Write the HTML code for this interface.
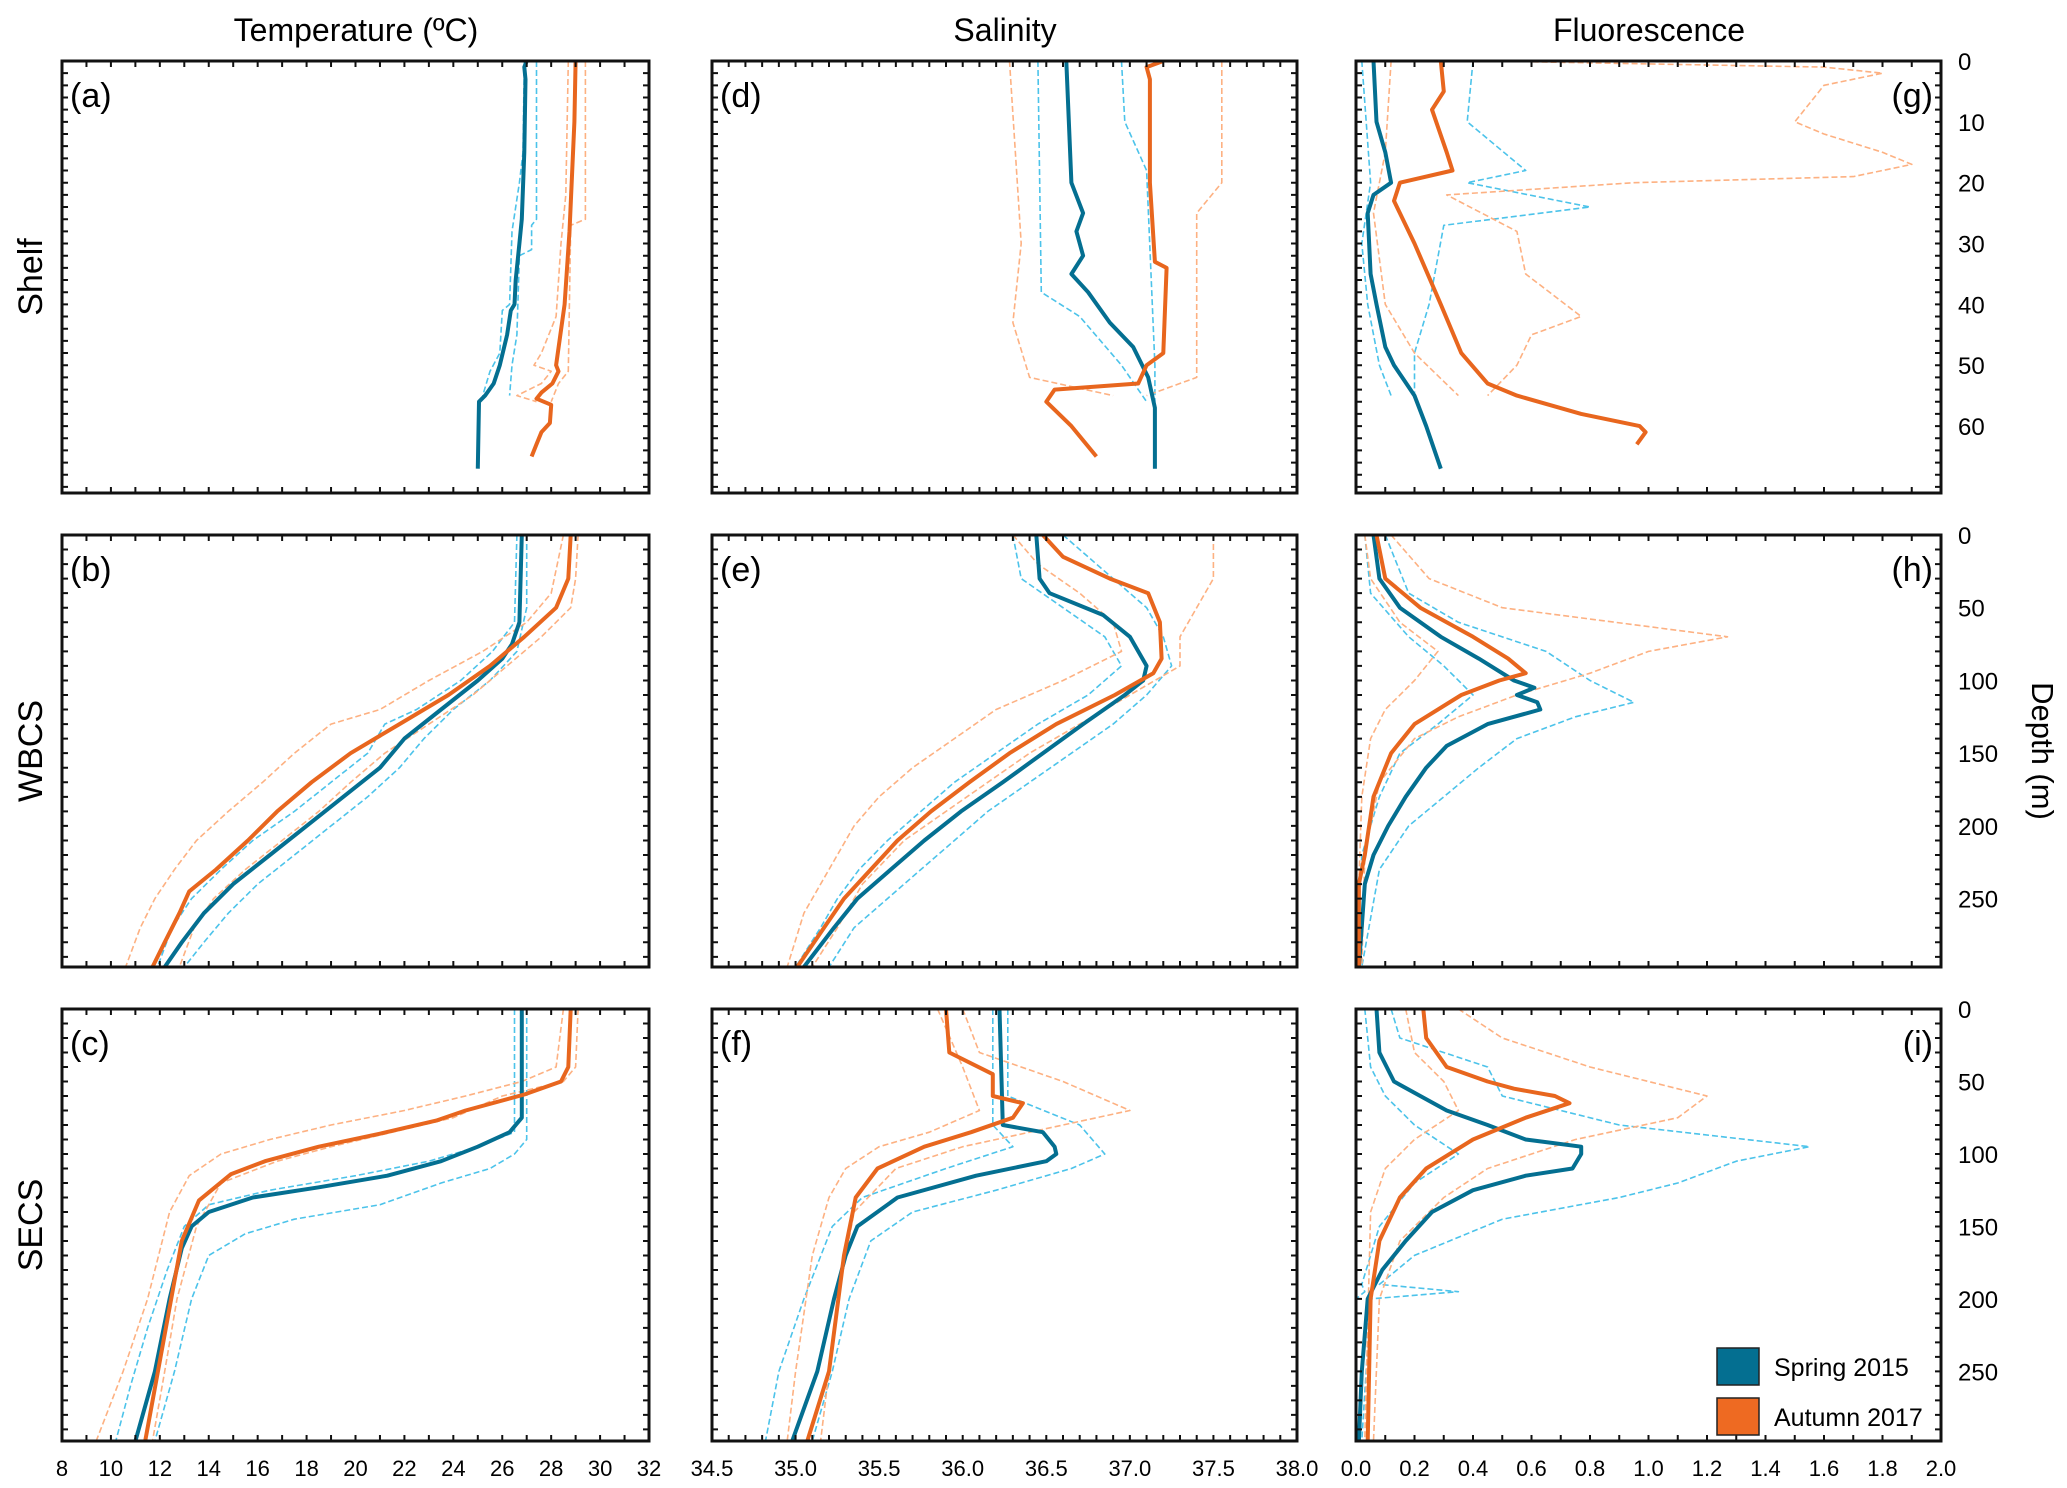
<!DOCTYPE html>
<html><head><meta charset="utf-8"><style>
html,body{margin:0;padding:0;background:#fff;}
svg{display:block;font-family:"Liberation Sans",Arial,sans-serif;}
</style></head><body>
<svg id="fig" width="2067" height="1488" viewBox="0 0 2067 1488" xmlns="http://www.w3.org/2000/svg">
<rect x="0" y="0" width="2067" height="1488" fill="#fff"/>
<text x="356" y="41" font-size="32" text-anchor="middle">Temperature (ºC)</text>
<text x="1005" y="41" font-size="32" text-anchor="middle">Salinity</text>
<text x="1649" y="41" font-size="32" text-anchor="middle">Fluorescence</text>
<text transform="translate(42,277) rotate(-90)" font-size="34" text-anchor="middle">Shelf</text>
<text transform="translate(42,751) rotate(-90)" font-size="34" text-anchor="middle">WBCS</text>
<text transform="translate(42,1225) rotate(-90)" font-size="34" text-anchor="middle">SECS</text>
<text transform="translate(2032,751) rotate(90)" font-size="31" text-anchor="middle">Depth (m)</text>
<g id="panels"></g>
<g>
<rect x="1717" y="1348" width="42" height="37" fill="#046f91" stroke="#222" stroke-width="1.5"/>
<text x="1774" y="1376" font-size="25">Spring 2015</text>
<rect x="1717" y="1398" width="42" height="37" fill="#ee6a22" stroke="#222" stroke-width="1.5"/>
<text x="1774" y="1426" font-size="25">Autumn 2017</text>
</g>
</svg>
<script>
// ---- data: [depth, value] pairs ----
const a_sp_mean=[[0,27.0],[1,26.9],[3,26.95],[15,26.9],[26,26.8],[30,26.7],[36,26.55],[40,26.5],[41,26.35],[45,26.2],[50,25.9],[53,25.65],[55,25.3],[56,25.05],[67,25.0]];
const a_sp_lo=[[0,26.9],[15,26.85],[20,26.7],[28,26.4],[40,26.3],[41,26.0],[48,25.9],[51,25.5],[55,25.2]];
const a_sp_hi=[[0,27.4],[26,27.4],[27,27.2],[31,27.2],[32,26.7],[45,26.6],[50,26.4],[55,26.3]];
const a_au_mean=[[0,29.0],[10,28.95],[28,28.75],[40,28.55],[50,28.2],[51,28.3],[53,28.05],[54.5,27.6],[55.5,27.4],[56.5,28.0],[59.5,27.95],[61,27.6],[63,27.4],[65,27.2]];
const a_au_lo=[[0,28.7],[22,28.6],[30,28.4],[42,28.2],[48,27.6],[50,27.3],[51,28.0],[53,27.6],[55,26.6],[56,27.4]];
const a_au_hi=[[0,29.4],[26,29.4],[27,28.8],[51,28.7],[53,28.3],[56,28.0]];

const b_sp_mean=[[0,26.8],[60,26.7],[75,26.4],[85,26.0],[100,25.0],[120,23.5],[140,22.0],[160,21.0],[180,19.5],[200,18.0],[220,16.5],[240,15.0],[260,13.8],[280,12.9],[297,12.2]];
const b_sp_lo=[[0,26.6],[60,26.5],[80,25.6],[100,24.3],[120,22.5],[130,21.2],[150,20.5],[170,19.0],[190,17.5],[210,15.8],[230,14.5],[250,13.3],[270,12.5],[297,11.9]];
const b_sp_hi=[[0,27.0],[50,27.0],[80,26.6],[100,25.5],[120,24.0],[140,22.8],[160,21.8],[180,20.5],[200,19.0],[220,17.5],[240,16.0],[260,14.8],[280,13.8],[297,13.0]];
const b_au_mean=[[0,28.8],[30,28.7],[50,28.2],[70,26.9],[90,25.5],[110,23.8],[130,21.8],[150,19.8],[170,18.2],[190,16.8],[210,15.6],[230,14.3],[245,13.2],[260,12.8],[280,12.2],[297,11.7]];
const b_au_lo=[[0,28.5],[40,28.0],[60,27.0],[80,25.2],[100,23.0],[120,21.0],[130,19.0],[150,17.5],[170,16.2],[190,14.8],[210,13.5],[230,12.6],[250,11.8],[270,11.2],[297,10.6]];
const b_au_hi=[[0,29.1],[30,29.0],[50,28.8],[70,27.6],[90,26.2],[110,24.8],[130,23.0],[150,21.2],[170,19.8],[190,18.5],[210,17.0],[230,15.5],[250,14.2],[270,13.4],[297,12.8]];

const c_sp_mean=[[0,26.8],[75,26.8],[85,26.3],[95,25.0],[105,23.5],[115,21.3],[123,18.5],[130,15.8],[140,14.0],[150,13.3],[165,12.9],[200,12.4],[250,11.8],[298,11.0]];
const c_sp_lo=[[0,26.5],[85,26.5],[95,25.0],[105,23.0],[115,20.0],[125,16.5],[135,14.0],[150,13.0],[180,12.3],[220,11.5],[260,10.8],[298,10.2]];
const c_sp_hi=[[0,27.0],[90,27.0],[100,26.5],[110,25.5],[120,23.5],[135,21.0],[145,17.5],[155,15.5],[170,14.0],[200,13.3],[250,12.6],[298,11.8]];
const c_au_mean=[[0,28.8],[40,28.7],[50,28.4],[59,26.9],[70,24.5],[77,23.3],[86,21.0],[95,18.5],[105,16.3],[114,14.9],[132,13.6],[160,12.9],[215,12.3],[298,11.4]];
const c_au_lo=[[0,28.5],[40,28.2],[50,26.8],[60,24.5],[70,22.0],[80,19.0],[90,16.5],[100,14.5],[115,13.2],[140,12.4],[200,11.5],[250,10.5],[298,9.4]];
const c_au_hi=[[0,29.1],[40,29.0],[50,28.5],[60,26.0],[75,24.0],[85,21.5],[95,19.0],[105,16.8],[120,14.5],[150,13.5],[200,12.7],[250,12.2],[298,11.7]];

const d_sp_mean=[[0,36.62],[20,36.65],[25,36.72],[28,36.68],[32,36.72],[35,36.65],[38,36.75],[43,36.88],[47,37.02],[52,37.11],[57,37.15],[67,37.15]];
const d_sp_lo=[[0,36.45],[38,36.47],[42,36.7],[50,36.95],[56,37.1]];
const d_sp_hi=[[0,36.95],[10,36.97],[18,37.1],[50,37.15],[56,37.15]];
const d_au_mean=[[0,37.2],[1,37.1],[3,37.12],[20,37.12],[33,37.15],[34,37.22],[48,37.2],[50,37.1],[53,37.05],[54,36.55],[56,36.5],[60,36.65],[65,36.8]];
const d_au_lo=[[0,36.28],[30,36.35],[43,36.3],[52,36.4],[55,36.9]];
const d_au_hi=[[0,37.55],[20,37.55],[25,37.4],[52,37.4],[55,37.1]];

const e_sp_mean=[[0,36.44],[30,36.46],[40,36.52],[55,36.84],[70,37.0],[90,37.1],[100,37.08],[110,36.97],[130,36.72],[150,36.48],[170,36.24],[190,35.99],[210,35.77],[230,35.57],[250,35.37],[270,35.23],[297,35.05]];
const e_sp_lo=[[0,36.3],[30,36.35],[50,36.6],[70,36.85],[90,36.95],[110,36.75],[130,36.45],[150,36.2],[170,35.95],[190,35.75],[210,35.55],[230,35.38],[250,35.25],[270,35.15],[297,35.0]];
const e_sp_hi=[[0,36.6],[30,36.9],[50,37.1],[70,37.2],[90,37.25],[110,37.1],[130,36.9],[150,36.65],[170,36.4],[190,36.15],[210,35.95],[230,35.75],[250,35.55],[270,35.35],[297,35.2]];
const e_au_mean=[[0,36.48],[15,36.6],[30,36.88],[40,37.11],[60,37.18],[85,37.19],[95,37.14],[110,36.91],[130,36.56],[150,36.28],[170,36.04],[190,35.81],[210,35.61],[230,35.45],[250,35.29],[270,35.17],[297,35.01]];
const e_au_lo=[[0,36.3],[20,36.45],[40,36.7],[60,36.9],[80,36.95],[100,36.6],[120,36.2],[140,35.95],[160,35.7],[180,35.5],[200,35.35],[230,35.2],[260,35.05],[297,34.95]];
const e_au_hi=[[0,37.5],[30,37.5],[50,37.4],[70,37.3],[90,37.3],[110,37.0],[130,36.7],[150,36.4],[170,36.15],[190,35.9],[210,35.65],[240,35.4],[270,35.25],[297,35.1]];

const f_sp_mean=[[0,36.22],[80,36.24],[85,36.48],[95,36.55],[100,36.56],[105,36.5],[115,36.08],[130,35.61],[150,35.37],[170,35.3],[200,35.23],[250,35.13],[298,34.98]];
const f_sp_lo=[[0,36.18],[80,36.18],[95,36.3],[110,35.9],[130,35.4],[150,35.22],[200,35.05],[250,34.9],[298,34.82]];
const f_sp_hi=[[0,36.27],[60,36.27],[80,36.7],[100,36.85],[110,36.65],[125,36.2],[140,35.7],[160,35.45],[200,35.32],[250,35.22],[298,35.1]];
const f_au_mean=[[0,35.9],[30,35.92],[45,36.18],[60,36.18],[65,36.36],[75,36.3],[85,36.05],[95,35.77],[110,35.49],[130,35.36],[170,35.29],[250,35.2],[298,35.07]];
const f_au_lo=[[0,35.85],[40,36.0],[70,36.1],[85,35.8],[95,35.5],[110,35.3],[130,35.2],[170,35.1],[250,35.0],[298,34.95]];
const f_au_hi=[[0,36.0],[30,36.1],[50,36.6],[70,37.0],[80,36.6],[95,36.0],[110,35.6],[140,35.35],[200,35.25],[250,35.2],[298,35.15]];

const g_sp_mean=[[0,0.06],[10,0.07],[15,0.10],[20,0.12],[22,0.06],[25,0.04],[35,0.05],[40,0.07],[47,0.1],[50,0.13],[55,0.2],[60,0.24],[67,0.29]];
const g_sp_lo=[[0,0.02],[20,0.05],[30,0.02],[40,0.04],[50,0.08],[55,0.12]];
const g_sp_hi=[[0,0.4],[10,0.38],[18,0.58],[20,0.38],[24,0.8],[27,0.3],[40,0.25],[48,0.2],[55,0.2]];
const g_au_mean=[[0,0.29],[5,0.3],[8,0.26],[15,0.31],[18,0.33],[20,0.15],[23,0.13],[30,0.2],[40,0.29],[48,0.36],[53,0.45],[55,0.55],[58,0.77],[60,0.97],[61,0.99],[63,0.96]];
const g_au_lo=[[0,0.12],[15,0.1],[25,0.06],[40,0.1],[48,0.2],[55,0.35]];
const g_au_hi=[[0,0.45],[1,1.6],[2,1.8],[4,1.6],[7,1.55],[10,1.5],[12,1.6],[15,1.8],[17,1.9],[19,1.7],[20,0.95],[22,0.31],[28,0.55],[35,0.58],[42,0.77],[45,0.6],[50,0.55],[55,0.45]];

const h_sp_mean=[[0,0.06],[30,0.08],[50,0.15],[70,0.29],[85,0.42],[100,0.54],[105,0.61],[110,0.55],[115,0.62],[120,0.63],[130,0.45],[145,0.31],[160,0.24],[180,0.17],[200,0.11],[220,0.06],[240,0.03],[297,0.01]];
const h_sp_lo=[[0,0.03],[40,0.05],[70,0.18],[90,0.3],[110,0.4],[130,0.28],[150,0.15],[180,0.08],[220,0.02],[297,0.0]];
const h_sp_hi=[[0,0.1],[40,0.18],[60,0.35],[80,0.65],[100,0.8],[115,0.95],[125,0.75],[140,0.55],[160,0.42],[180,0.3],[200,0.18],[230,0.08],[297,0.02]];
const h_au_mean=[[0,0.07],[30,0.1],[50,0.22],[70,0.4],[85,0.52],[95,0.58],[100,0.49],[110,0.36],[130,0.2],[150,0.12],[180,0.06],[220,0.03],[240,0.01],[297,0.01]];
const h_au_lo=[[0,0.03],[30,0.05],[60,0.15],[80,0.28],[100,0.2],[120,0.1],[140,0.05],[180,0.02],[297,0.0]];
const h_au_hi=[[0,0.12],[30,0.25],[50,0.5],[70,1.27],[80,1.0],[95,0.8],[110,0.55],[125,0.35],[140,0.2],[170,0.08],[220,0.03],[297,0.02]];

const i_sp_mean=[[0,0.07],[30,0.08],[50,0.13],[60,0.22],[70,0.31],[80,0.45],[90,0.58],[95,0.77],[100,0.77],[110,0.74],[115,0.58],[125,0.4],[140,0.26],[160,0.17],[180,0.09],[200,0.04],[250,0.02],[298,0.01]];
const i_sp_lo=[[0,0.03],[40,0.05],[60,0.1],[80,0.2],[100,0.35],[120,0.2],[150,0.08],[190,0.02],[195,0.03],[200,0.0],[298,0.0]];
const i_sp_hi=[[0,0.12],[20,0.15],[40,0.45],[60,0.5],[80,0.9],[95,1.55],[105,1.3],[120,1.1],[130,0.9],[145,0.5],[170,0.2],[190,0.08],[195,0.35],[200,0.05],[298,0.02]];
const i_au_mean=[[0,0.23],[20,0.24],[40,0.31],[50,0.45],[55,0.54],[60,0.68],[65,0.73],[75,0.58],[90,0.4],[110,0.24],[130,0.15],[160,0.08],[200,0.05],[298,0.04]];
const i_au_lo=[[0,0.17],[30,0.2],[50,0.3],[70,0.35],[90,0.2],[110,0.1],[140,0.05],[298,0.03]];
const i_au_hi=[[0,0.35],[20,0.5],[40,0.8],[60,1.2],[75,1.1],[90,0.75],[110,0.45],[130,0.3],[160,0.15],[200,0.08],[298,0.06]];

// axis tick labels
const tempTicks=[8,10,12,14,16,18,20,22,24,26,28,30,32];
const salTicks=["34.5","35.0","35.5","36.0","36.5","37.0","37.5","38.0"];
const fluTicks=["0.0","0.2","0.4","0.6","0.8","1.0","1.2","1.4","1.6","1.8","2.0"];
const shelfDepthTicks=[0,10,20,30,40,50,60];
const deepDepthTicks=[0,50,100,150,200,250];

const NS="http://www.w3.org/2000/svg";
const root=document.getElementById('panels');
const COLX=[62,712,1356], COLW=[587,585,585];
const ROWY=[61,535,1009], ROWH=432;
const XDOM=[[8,32],[34.5,38.0],[0,2]];
const XMINOR=[1,0.1,0.1];
const YDOM=[[0,71],[0,297],[0,298]];
const YMINOR=[2,10,10];
const C={sp:'#046f91',au:'#e8661e',spl:'#4cc3ea',aul:'#fdb182'};

const panels=[
 {id:'a',c:0,r:0,lines:[a_sp_lo,a_sp_hi,a_au_lo,a_au_hi,a_sp_mean,a_au_mean]},
 {id:'b',c:0,r:1,lines:[b_sp_lo,b_sp_hi,b_au_lo,b_au_hi,b_sp_mean,b_au_mean]},
 {id:'c',c:0,r:2,lines:[c_sp_lo,c_sp_hi,c_au_lo,c_au_hi,c_sp_mean,c_au_mean]},
 {id:'d',c:1,r:0,lines:[d_sp_lo,d_sp_hi,d_au_lo,d_au_hi,d_sp_mean,d_au_mean]},
 {id:'e',c:1,r:1,lines:[e_sp_lo,e_sp_hi,e_au_lo,e_au_hi,e_sp_mean,e_au_mean]},
 {id:'f',c:1,r:2,lines:[f_sp_lo,f_sp_hi,f_au_lo,f_au_hi,f_sp_mean,f_au_mean]},
 {id:'g',c:2,r:0,lines:[g_sp_lo,g_sp_hi,g_au_lo,g_au_hi,g_sp_mean,g_au_mean]},
 {id:'h',c:2,r:1,lines:[h_sp_lo,h_sp_hi,h_au_lo,h_au_hi,h_sp_mean,h_au_mean]},
 {id:'i',c:2,r:2,lines:[i_sp_lo,i_sp_hi,i_au_lo,i_au_hi,i_sp_mean,i_au_mean]}
];
const lineStyle=[
 {col:C.spl,w:1.6,dash:'6,3',name:'spring-lower-bound'},
 {col:C.spl,w:1.6,dash:'6,3',name:'spring-upper-bound'},
 {col:C.aul,w:1.6,dash:'6,3',name:'autumn-lower-bound'},
 {col:C.aul,w:1.6,dash:'6,3',name:'autumn-upper-bound'},
 {col:C.sp,w:4,dash:null,name:'spring-mean-line'},
 {col:C.au,w:4,dash:null,name:'autumn-mean-line'}
];

function el(tag,attrs,parent){const e=document.createElementNS(NS,tag);for(const k in attrs)e.setAttribute(k,attrs[k]);parent.appendChild(e);return e;}

panels.forEach(p=>{
  const x0=COLX[p.c],w=COLW[p.c],y0=ROWY[p.r],h=ROWH;
  const xd=XDOM[p.c],yd=YDOM[p.r];
  const sx=v=>x0+(v-xd[0])/(xd[1]-xd[0])*w;
  const sy=d=>y0+(d-yd[0])/(yd[1]-yd[0])*h;
  const g=el('g',{},root);
  
  
  const cp=el('clipPath',{id:'cp'+p.id},g);
  el('rect',{x:x0,y:y0,width:w,height:h},cp);
  const lg=el('g',{'clip-path':'url(#cp'+p.id+')'},g);
  p.lines.forEach((pts,k)=>{
    const s=lineStyle[k];
    const d=pts.map((q,j)=>(j?'L':'M')+sx(q[1]).toFixed(1)+','+sy(q[0]).toFixed(1)).join(' ');
    const path=el('path',{d:d,fill:'none',stroke:s.col,'stroke-width':s.w,'stroke-linejoin':'round'},lg);
    if(s.dash)path.setAttribute('stroke-dasharray',s.dash);
    
    
  });
  let tk='';
  const xs=XMINOR[p.c];
  const nX=Math.round((xd[1]-xd[0])/xs);
  for(let i=0;i<=nX;i++){const x=sx(xd[0]+i*xs);tk+=`M${x},${y0+h}v-6M${x},${y0}v6`;}
  const ys=YMINOR[p.r];
  for(let d=yd[0];d<=yd[1];d+=ys){const y=sy(d);tk+=`M${x0},${y}h6M${x0+w},${y}h-6`;}
  const ticks=el('path',{d:tk,stroke:'#111','stroke-width':2,fill:'none'},g);
  
  
  const fr=el('rect',{x:x0,y:y0,width:w,height:h,fill:'none',stroke:'#111','stroke-width':3},g);
  
  
  const right=p.c===2;
  const lbl=el('text',{x:right?x0+w-8:x0+8,y:y0+46,'font-size':34,'text-anchor':right?'end':'start'},g);
  lbl.textContent='('+p.id+')';
  
  
  if(p.r===2){
    const labs=p.c===0?tempTicks:(p.c===1?salTicks:fluTicks);
    labs.forEach(v=>{
      const t=el('text',{x:sx(parseFloat(v)),y:y0+h+35,'font-size':22,'text-anchor':'middle'},g);
      t.textContent=String(v);
      
      
    });
  }
  if(right){
    const labs=p.r===0?shelfDepthTicks:deepDepthTicks;
    labs.forEach(v=>{
      const t=el('text',{x:1958,y:sy(v)+9,'font-size':24,'text-anchor':'start'},g);
      t.textContent=String(v);
      
      
    });
  }
});
</script>
</body></html>
